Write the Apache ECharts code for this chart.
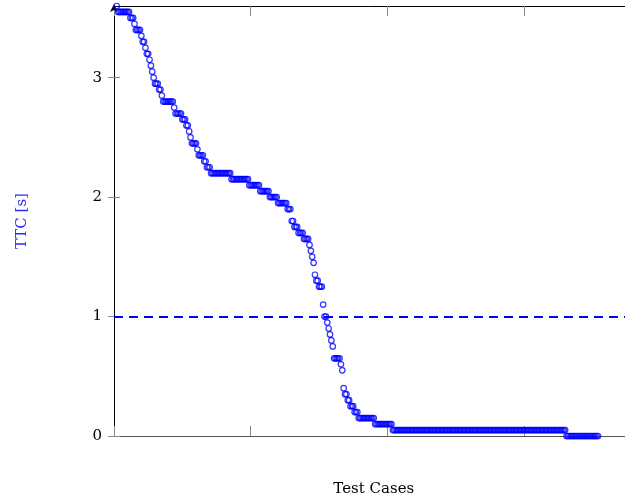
<!DOCTYPE html>
<html>
<head>
<meta charset="utf-8">
<script src="https://cdn.jsdelivr.net/npm/echarts@6/dist/echarts.min.js"></script>
<style>html,body{margin:0;padding:0;background:#fff}#c{width:625px;height:500px}</style>
</head>
<body>
<div id="c"></div>
<script>
// TTC levels (s) in order of test cases, with the number of test cases at each level
var firstCase = 2;
var ttcLevels = [3.6, 3.55, 3.5, 3.45, 3.4, 3.35, 3.3, 3.25, 3.2, 3.15, 3.1, 3.05, 3.0, 2.95, 2.9, 2.85, 2.8, 2.75, 2.7, 2.65, 2.6, 2.55, 2.5, 2.45, 2.4, 2.35, 2.3, 2.25, 2.2, 2.15, 2.1, 2.05, 2.0, 1.95, 1.9, 1.8, 1.75, 1.7, 1.65, 1.6, 1.55, 1.5, 1.45, 1.35, 1.3, 1.25, 1.1, 1.0, 0.95, 0.9, 0.85, 0.8, 0.75, 0.65, 0.6, 0.55, 0.4, 0.35, 0.3, 0.25, 0.2, 0.15, 0.1, 0.05, 0.0];
var ttcCounts = [1, 9, 3, 1, 4, 1, 2, 1, 2, 1, 1, 1, 1, 3, 2, 1, 8, 1, 5, 3, 2, 1, 1, 4, 1, 4, 2, 3, 15, 13, 8, 7, 6, 7, 3, 2, 3, 4, 4, 1, 1, 1, 1, 1, 2, 3, 1, 2, 1, 1, 1, 1, 1, 5, 1, 1, 1, 2, 2, 3, 3, 12, 13, 127, 24];
var thresholdTTC = 1;
var xTicks = [0, 100, 200, 300];
var yTicks = [0, 1, 2, 3];
var xMax = 380, yMax = 3.6;

var points = [];
var idx = firstCase;
for (var k = 0; k < ttcLevels.length; k++) {
  for (var j = 0; j < ttcCounts[k]; j++) { points.push([idx, ttcLevels[k]]); idx++; }
}

var font = 'DejaVu Serif';
var chart = echarts.init(document.getElementById('c'), null, {renderer: 'canvas'});
chart.setOption({
  animation: false,
  grid: {left: 114, top: 6, width: 519.5, height: 430, outerBoundsMode: 'none', containLabel: false},
  xAxis: [{
    type: 'value', min: 0, max: xMax, position: 'bottom',
    name: 'Test Cases', nameLocation: 'middle', nameGap: 46,
    nameTextStyle: {fontFamily: font, fontSize: 15, color: '#000'},
    axisLine: {show: true, lineStyle: {color: '#555', width: 1}},
    axisTick: {show: true, inside: true, length: 10, lineStyle: {color: '#888'}, customValues: xTicks},
    axisLabel: {show: false},
    splitLine: {show: false}
  }, {
    type: 'value', min: 0, max: xMax, position: 'top',
    axisLine: {show: true, onZero: false, lineStyle: {color: '#000', width: 1}},
    axisTick: {show: true, inside: true, length: 10, lineStyle: {color: '#888'}, customValues: xTicks},
    axisLabel: {show: false},
    splitLine: {show: false}
  }],
  yAxis: [{
    type: 'value', min: 0, max: yMax, position: 'left',
    name: 'TTC [s]', nameLocation: 'middle', nameGap: 84, nameRotate: 90,
    nameTextStyle: {fontFamily: font, fontSize: 15, color: '#2a2aff'},
    axisLine: {show: true, onZero: false, symbol: ['none', 'arrow'], symbolSize: [6, 8], symbolOffset: [0, 2], lineStyle: {color: '#000', width: 1}},
    axisTick: {show: true, inside: false, length: 6, lineStyle: {color: '#888'}, customValues: yTicks},
    axisLabel: {show: true, margin: 12, fontFamily: font, fontSize: 15, color: '#000', customValues: yTicks},
    splitLine: {show: false}
  }, {
    type: 'value', min: 0, max: yMax, position: 'left',
    axisLine: {show: false},
    axisTick: {show: true, inside: true, length: 6, lineStyle: {color: '#888'}, customValues: yTicks},
    axisLabel: {show: false},
    splitLine: {show: false}
  }],
  series: [{
    type: 'scatter',
    data: points,
    symbol: 'circle',
    symbolSize: 5.5,
    itemStyle: {color: 'rgba(0,0,0,0)', borderColor: '#0000ff', borderWidth: 1.2},
    markLine: {
      silent: true, symbol: ['none', 'none'], label: {show: false},
      lineStyle: {color: '#0000ff', type: [9, 6], width: 2},
      data: [{yAxis: thresholdTTC}]
    }
  }]
});
</script>
</body>
</html>
